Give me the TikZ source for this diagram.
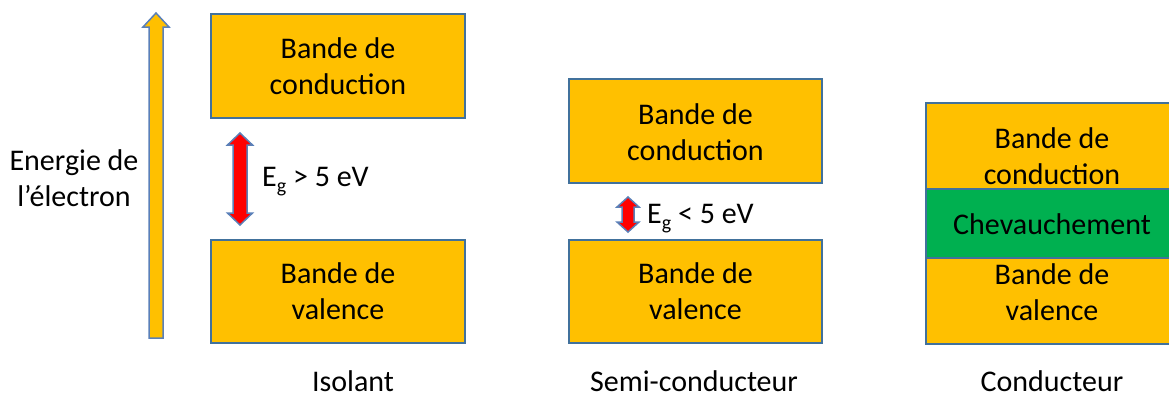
\documentclass[tikz,border=0pt]{standalone}
\usepackage{fontspec}
\setmainfont{Carlito}
\definecolor{bandyellow}{HTML}{FFC000}
\definecolor{bandgreen}{HTML}{00B050}
\definecolor{edgeblue}{HTML}{41719C}
\definecolor{arrowedge}{HTML}{5A80B8}
\definecolor{gapred}{HTML}{FF0000}
\begin{document}
\begin{tikzpicture}[x=1pt,y=-1pt,
  every node/.style={font=\fontsize{30}{36}\selectfont, inner sep=0pt, text=black},
  band/.style={draw=edgeblue, line width=1.5pt, fill=bandyellow},
  overlap/.style={draw=edgeblue, line width=1.5pt, fill=bandgreen},
  arrowshape/.style={draw=arrowedge, line width=1.5pt, line join=miter},
  bandtext/.style={align=center},
  caption/.style={anchor=base}]
\useasboundingbox (0,0) rectangle (1169,397);
% energy axis arrow
\draw[arrowshape, fill=bandyellow] (149,338) -- (163,338) -- (163,27) -- (169,27) -- (156,13) -- (143,27) -- (149,27) -- cycle;
\node[align=center] (energy) at (74,178) {Energie de\\l’électron};
% Isolant
\draw[band] (211,14) rectangle (465,118);
\node[bandtext] (isoCond) at (338,66) {Bande de\\conduction};
\draw[band] (211,240) rectangle (465,343);
\node[bandtext] (isoVal) at (338,291.5) {Bande de\\valence};
\draw[arrowshape, fill=gapred] (240,133) -- (252.5,145) -- (247,145) -- (247,213) -- (252.5,213) -- (240,225) -- (227.5,213) -- (233,213) -- (233,145) -- (227.5,145) -- cycle;
\node[anchor=base west] (isoGap) at (262,186) {E{\fontsize{20}{20}\selectfont\raisebox{-6pt}{g}} > 5 eV};
\node[caption] (isoLabel) at (353,391) {Isolant};
% Semi-conducteur
\draw[band] (569,79) rectangle (822,183);
\node[bandtext] (semiCond) at (695.5,132) {Bande de\\conduction};
\draw[band] (569,240) rectangle (822,343);
\node[bandtext] (semiVal) at (695.5,291.5) {Bande de\\valence};
\draw[arrowshape, fill=gapred] (628,197) -- (639,207) -- (634,207) -- (634,222) -- (639,222) -- (628,232) -- (617,222) -- (622,222) -- (622,207) -- (617,207) -- cycle;
\node[anchor=base west] (semiGap) at (647,223) {E{\fontsize{20}{20}\selectfont\raisebox{-6pt}{g}} < 5 eV};
\node[caption] (semiLabel) at (694,391) {Semi-conducteur};
% Conducteur
\draw[band] (926,103) rectangle (1179,189);
\draw[band] (926,258) rectangle (1179,344);
\draw[overlap] (926,189) rectangle (1179,258);
\node[bandtext] (condCond) at (1052,156) {Bande de\\conduction};
\node (condOver) at (1052,224) {Chevauchement};
\node[bandtext] (condVal) at (1052,292) {Bande de\\valence};
\node[caption] (condLabel) at (1052,391) {Conducteur};
\end{tikzpicture}
\end{document}
